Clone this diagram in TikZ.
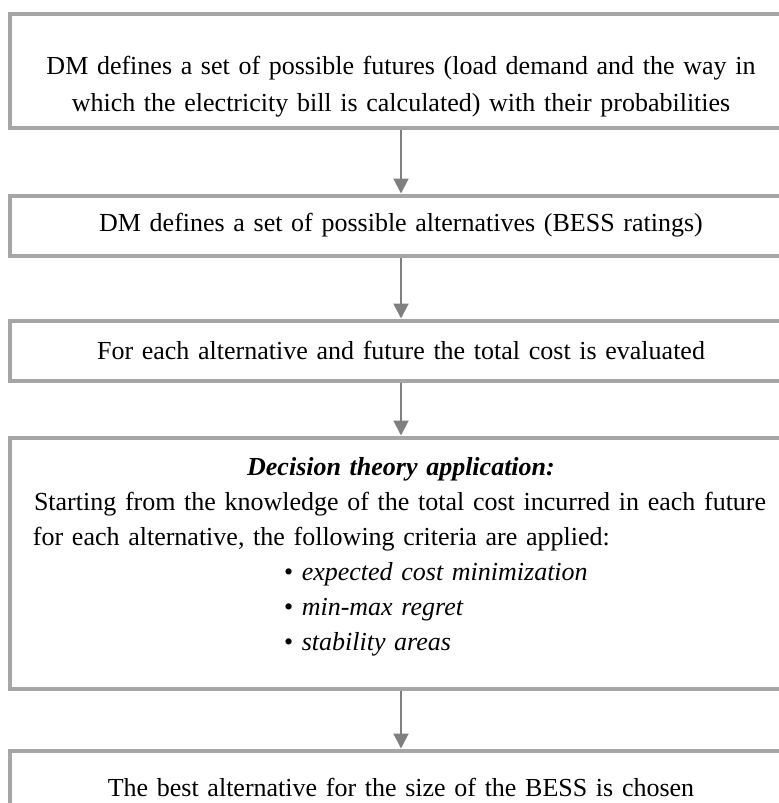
\documentclass[tikz,border=0pt]{standalone}
\usepackage{fontspec}
\setmainfont{Liberation Serif}[WordSpace=0.85]
\usepackage{xcolor}
\usetikzlibrary{arrows.meta, positioning}
\definecolor{boxgray}{RGB}{166,166,166}
\definecolor{arrowgray}{RGB}{128,128,128}
\tikzset{
  stepbox/.style={rectangle, draw=boxgray, line width=2pt, fill=white,
                  minimum width=391pt, text width=379pt, inner xsep=6pt,
                  align=center, font=\fontsize{13}{18.5}\selectfont},
  arrow/.style={-{Triangle[length=7.5pt,width=7.5pt]}, line width=1pt, color=arrowgray}
}

\begin{document}
\begin{tikzpicture}

  \useasboundingbox (0,0) rectangle (389.5pt,-401.5pt);
  \clip (0,0) rectangle (389.5pt,-401.5pt);

  %% ── Steps ──────────────────────────────────────────────────────────────
  \node[stepbox, minimum height=57pt, anchor=north] (futures) at (200.5pt,-5.75pt)
        {\rule{0pt}{25pt}DM defines a set of possible futures (load demand and the way in\\
         which the electricity bill is calculated) with their probabilities};

  \node[stepbox, minimum height=30pt, below=32pt of futures] (alternatives)
        {DM defines a set of possible alternatives (BESS ratings)};

  \node[stepbox, minimum height=30pt, below=30.5pt of alternatives] (costs)
        {For each alternative and future the total cost is evaluated};

  \node[stepbox, minimum height=125.5pt, align=left, below=26.5pt of costs,
        font=\fontsize{13}{17.5}\selectfont] (theory)
        {\makebox[379pt]{\textbf{\textit{Decision theory application:}}}\\
         \hspace*{6pt}Starting from the knowledge of the total cost incurred in each future\\
         \hspace*{5.5pt}for each alternative, the following criteria are applied:\\
         \hspace*{131pt}• \textit{expected cost minimization}\\
         \hspace*{131pt}• \textit{min-max regret}\\
         \hspace*{131pt}• \textit{stability areas}\rule[-9pt]{0pt}{9pt}};

  \node[stepbox, minimum height=37pt, below=29pt of theory] (best)
        {The best alternative for the size of the BESS is chosen};

  %% ── Arrows ──────────────────────────────────────────────────────────────
  \draw[arrow] (futures) -- (alternatives);
  \draw[arrow] (alternatives) -- (costs);
  \draw[arrow] (costs) -- (theory);
  \draw[arrow] (theory) -- (best);

\end{tikzpicture}
\end{document}
